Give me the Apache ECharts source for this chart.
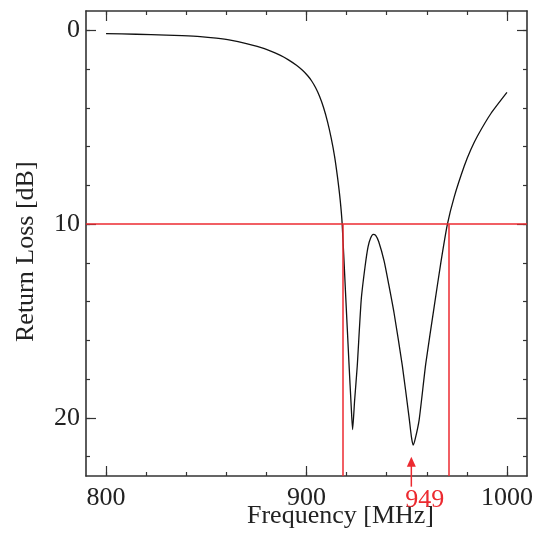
<!DOCTYPE html>
<html>
<head>
<meta charset="utf-8">
<script src="https://cdn.jsdelivr.net/npm/echarts@6/dist/echarts.min.js"></script>
<style>html,body{margin:0;padding:0;background:#fff}#c{width:536px;height:541px}</style>
</head>
<body>
<div id="c"></div>
<script>
// Data
const freq = [800, 815, 830, 838, 847, 855, 862, 870, 879, 887, 891, 895, 898, 900.5, 902.5, 904.5, 906.5, 908.5, 910.5, 912.3, 914, 915.5, 916.8, 917.8,
  919.5, 921.2, 922.3, 923, 924, 925.3, 927.3, 929.2, 930.7, 932, 933.3, 934.5, 936, 938.7, 941, 943.7, 947.8, 951.2, 952.3, 953.2,
  954.2, 956.2, 959.5, 963.7, 967, 970.3, 973.7, 978.7, 982, 985.3, 992, 1000];
const returnLoss = [0.17, 0.20, 0.24, 0.27, 0.32, 0.40, 0.50, 0.68, 0.94, 1.29, 1.52, 1.80, 2.06, 2.33, 2.60, 2.95, 3.40, 3.98, 4.72, 5.55, 6.5, 7.6, 8.75, 10.0,
  13.6, 17.2, 19.4, 20.6, 19.1, 17.35, 13.9, 12.2, 11.17, 10.72, 10.53, 10.58, 10.9, 11.9, 13.1, 14.6, 17.3, 20.0, 20.95, 21.4,
  21.1, 20.1, 17.2, 14.26, 12.0, 10.0, 8.59, 7.0, 6.15, 5.45, 4.29, 3.2];
const thresholdDb = 10;
const bandEdges = [918, 971];
const markerFreq = 952.3;
const markerLabel = '949';
const markerTipDb = 22.0;
const markerTailDb = 23.55;
const xMajorTicks = [800, 900, 1000];
const xMinorTicks = [800, 820, 840, 860, 880, 900, 920, 940, 960, 980, 1000];
const yMajorTicks = [0, 10, 20];
const yMinorTicks = [0, 2, 4, 6, 8, 10, 12, 14, 16, 18, 20, 22];
const xRange = [790, 1010];
const yRange = [-1, 23];

const FONT = '"Liberation Serif", "Times New Roman", serif';
const RED = '#ec2a30';
const AX = '#333';

function xAx(pos, ticks, len, showLine, labels) {
  return {
    type: 'value', position: pos, min: xRange[0], max: xRange[1], gridIndex: 0,
    axisLine: { show: showLine, onZero: false, lineStyle: { color: AX, width: 1.6 } },
    axisTick: { show: true, inside: true, length: len, customValues: ticks, lineStyle: { color: AX, width: 1.2 } },
    axisLabel: labels ? { show: true, customValues: ticks, margin: 9, fontFamily: FONT, fontSize: 26, color: '#222', formatter: v => String(v) } : { show: false },
    splitLine: { show: false }
  };
}
function yAx(pos, ticks, len, showLine, labels) {
  return {
    type: 'value', position: pos, min: yRange[0], max: yRange[1], inverse: true, gridIndex: 0,
    axisLine: { show: showLine, onZero: false, lineStyle: { color: AX, width: 1.6 } },
    axisTick: { show: true, inside: true, length: len, customValues: ticks, lineStyle: { color: AX, width: 1.2 } },
    axisLabel: labels ? { show: true, customValues: ticks, margin: 6, fontFamily: FONT, fontSize: 26, color: '#222', formatter: v => String(v) } : { show: false },
    splitLine: { show: false }
  };
}

const chart = echarts.init(document.getElementById('c'), null, { renderer: 'canvas' });
const data = freq.map((f, i) => [f, returnLoss[i]]);

chart.setOption({
  animation: false,
  grid: { left: 86, right: 9, top: 11, bottom: 65, containLabel: false },
  xAxis: [
    xAx('bottom', xMajorTicks, 10, true, true),
    xAx('bottom', xMinorTicks, 4, false, false),
    xAx('top', xMajorTicks, 10, true, false),
    xAx('top', xMinorTicks, 4, false, false)
  ],
  yAxis: [
    yAx('left', yMajorTicks, 10, true, true),
    yAx('left', yMinorTicks, 4, false, false),
    yAx('right', yMajorTicks, 10, true, false),
    yAx('right', yMinorTicks, 4, false, false)
  ],
  series: [{
    type: 'line', xAxisIndex: 0, yAxisIndex: 0, data: data, showSymbol: false,
    smooth: 0.2,
    lineStyle: { color: '#111', width: 1.3 }, z: 3,
    markLine: {
      silent: true, symbol: ['none', 'none'], animation: false,
      lineStyle: { color: RED, width: 1.5, type: 'solid' },
      label: { show: false },
      data: [
        [{ coord: [xRange[0], thresholdDb] }, { coord: [xRange[1], thresholdDb] }],
        [{ coord: [bandEdges[0], thresholdDb] }, { coord: [bandEdges[0], yRange[1]] }],
        [{ coord: [bandEdges[1], thresholdDb] }, { coord: [bandEdges[1], yRange[1]] }]
      ]
    }
  }]
});

// Annotation arrow and label, positioned through the chart's own scales
const tip = chart.convertToPixel({ xAxisIndex: 0, yAxisIndex: 0 }, [markerFreq, markerTipDb]);
const tail = chart.convertToPixel({ xAxisIndex: 0, yAxisIndex: 0 }, [markerFreq, markerTailDb]);
chart.setOption({
  graphic: [
    { type: 'text', left: 247, top: 503, style: { text: 'Frequency [MHz]', font: '26px "Liberation Serif"', fill: '#222' } },
    { type: 'text', rotation: Math.PI / 2, x: 13, y: 342, style: { text: 'Return Loss [dB]', font: '26px "Liberation Serif"', fill: '#222' } },
    { type: 'line', shape: { x1: tail[0], y1: tail[1], x2: tip[0], y2: tip[1] + 6 }, style: { stroke: RED, lineWidth: 1.5 }, z: 10 },
    { type: 'polygon', shape: { points: [[tip[0], tip[1]], [tip[0] - 4.5, tip[1] + 10], [tip[0] + 4.5, tip[1] + 10]] }, style: { fill: RED }, z: 10 },
    { type: 'text', x: tip[0] - 6, y: tail[1] + 1, style: { text: markerLabel, font: '26px "Liberation Serif"', fill: RED }, z: 10 }
  ]
});
</script>
</body>
</html>
